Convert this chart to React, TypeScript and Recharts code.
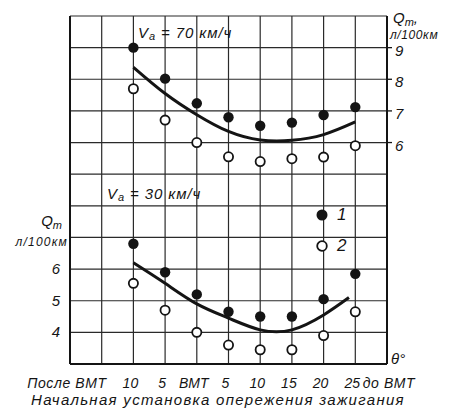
import React from 'react';
import { ComposedChart, Line, Scatter, XAxis, YAxis, CartesianGrid, Legend, ReferenceLine } from 'recharts';

// Ignition advance angle, degrees (negative = after TDC)
const angles = [-10, -5, 0, 5, 10, 15, 20, 25];

// Va = 70 km/h (right scale)
const fuel70Series1 = [9.0, 8.02, 7.24, 6.8, 6.53, 6.63, 6.87, 7.12];
const fuel70Series2 = [7.7, 6.71, 6.0, 5.55, 5.4, 5.49, 5.54, 5.9];
const curve70Angles = [-10, -5, 0, 5, 10, 15, 20, 25];
const curve70Values = [8.38, 7.55, 6.88, 6.35, 6.08, 6.07, 6.25, 6.65];

// Va = 30 km/h (left scale)
const fuel30Series1 = [6.8, 5.9, 5.2, 4.65, 4.5, 4.5, 5.05, 5.85];
const fuel30Series2 = [5.55, 4.7, 4.0, 3.6, 3.45, 3.45, 3.9, 4.65];
const curve30Angles = [-10, -5, 0, 5, 10, 15, 20, 24];
const curve30Values = [6.2, 5.55, 4.9, 4.45, 4.08, 4.08, 4.55, 5.1];

const xTicks = [-20, -15, -10, -5, 0, 5, 10, 15, 20, 25, 30];
const xTickLabels = ['', 'После ВМТ', '10', '5', 'ВМТ', '5', '10', '15', '20', '25', 'до ВМТ'];
const rightTicks = [6, 7, 8, 9];
const leftTicks = [4, 5, 6];
// horizontal grid lines, in left-scale units
const gridLevels = [3, 4, 5, 6, 7, 8, 9, 10, 11, 12, 13, 14];

const legendItems = [
  { key: '1', filled: true },
  { key: '2', filled: false },
];

const toPoints = (xs: number[], ys: number[]) => xs.map((x, i) => ({ x, y: ys[i] }));

const s70a = toPoints(angles, fuel70Series1);
const s70b = toPoints(angles, fuel70Series2);
const c70 = toPoints(curve70Angles, curve70Values);
const s30a = toPoints(angles, fuel30Series1);
const s30b = toPoints(angles, fuel30Series2);
const c30 = toPoints(curve30Angles, curve30Values);

const INK = '#141414';
const FONT = '"Liberation Sans", Arial, sans-serif';

const FilledDot = (props: any) => {
  const { cx, cy } = props;
  return <circle cx={cx} cy={cy} r={5.2} fill={INK} />;
};
const OpenDot = (props: any) => {
  const { cx, cy } = props;
  return <circle cx={cx} cy={cy} r={4.6} fill="#fff" stroke={INK} strokeWidth={1.8} />;
};

const XTick = (props: any) => {
  const { x, payload } = props;
  const i = xTicks.indexOf(payload.value);
  const label = xTickLabels[i] || '';
  const isLeft = payload.value === -15;
  const isRight = payload.value === 30;
  return (
    <text
      x={isLeft ? x + 5 : isRight ? x + 2 : x - 3}
      y={388}
      textAnchor={isLeft ? 'end' : 'middle'}
      fontFamily={FONT}
      fontStyle="italic"
      fontSize={14}
      letterSpacing={isLeft || isRight ? 0.6 : 0}
      fill={INK}
    >
      {label}
    </text>
  );
};

const RightTick = (props: any) => {
  const { x, y, payload } = props;
  return (
    <text x={x + 1} y={y + 8} textAnchor="start" fontFamily={FONT} fontStyle="italic" fontSize={15} fill={INK}>
      {payload.value}
    </text>
  );
};

const LeftTick = (props: any) => {
  const { y, payload } = props;
  return (
    <text x={60} y={y + 5} textAnchor="end" fontFamily={FONT} fontStyle="italic" fontSize={15} fill={INK}>
      {payload.value}
    </text>
  );
};

const LegendContent = () => (
  <div style={{ fontFamily: FONT, fontStyle: 'italic', fontSize: 17, color: INK }}>
    {legendItems.map((it) => (
      <div key={it.key} style={{ display: 'flex', alignItems: 'center', height: 31 }}>
        <svg width={14} height={14} style={{ marginRight: 8 }}>
          {it.filled ? (
            <circle cx={7} cy={7} r={5.5} fill={INK} />
          ) : (
            <circle cx={7} cy={7} r={4.8} fill="#fff" stroke={INK} strokeWidth={1.8} />
          )}
        </svg>
        <span>{it.key}</span>
      </div>
    ))}
  </div>
);

export default function App() {
  return (
    <div style={{ position: 'absolute', left: 0, top: 0, width: 452, height: 408, background: '#fff' }}>
      <ComposedChart width={452} height={408} margin={{ top: 16, right: 0, bottom: 0, left: 0 }}>
        <XAxis
          xAxisId={0}
          type="number"
          dataKey="x"
          domain={[-20, 30]}
          ticks={xTicks}
          interval={0}
          height={44}
          tick={<XTick />}
          tickLine={false}
          axisLine={{ stroke: INK, strokeWidth: 2 }}
          allowDataOverflow
        />
        <YAxis
          yAxisId="left"
          orientation="left"
          type="number"
          dataKey="y"
          domain={[3, 14]}
          ticks={leftTicks}
          interval={0}
          width={70}
          tick={<LeftTick />}
          tickLine={false}
          axisLine={{ stroke: INK, strokeWidth: 2 }}
          allowDataOverflow
        />
        <YAxis
          yAxisId="right"
          orientation="right"
          type="number"
          dataKey="y"
          domain={[-1, 10]}
          ticks={rightTicks}
          interval={0}
          width={65}
          tick={<RightTick />}
          tickSize={5}
          tickLine={{ stroke: INK, strokeWidth: 1.3 }}
          axisLine={{ stroke: INK, strokeWidth: 2 }}
          allowDataOverflow
        />
        <CartesianGrid xAxisId={0} yAxisId="left" horizontal={false} stroke="#2a2a2a" strokeWidth={1.2} />
        {gridLevels.map((v) => (
          <ReferenceLine key={v} xAxisId={0} yAxisId="left" y={v} stroke="#2a2a2a" strokeWidth={1.2} />
        ))}

        <Line
          xAxisId={0}
          yAxisId="right"
          data={c70}
          dataKey="y"
          type="natural"
          stroke={INK}
          strokeWidth={3}
          dot={false}
          isAnimationActive={false}
          legendType="none"
        />
        <Line
          xAxisId={0}
          yAxisId="left"
          data={c30}
          dataKey="y"
          type="natural"
          stroke={INK}
          strokeWidth={3}
          dot={false}
          isAnimationActive={false}
          legendType="none"
        />
        <Scatter xAxisId={0} yAxisId="right" data={s70a} shape={<FilledDot />} isAnimationActive={false} />
        <Scatter xAxisId={0} yAxisId="right" data={s70b} shape={<OpenDot />} isAnimationActive={false} />
        <Scatter xAxisId={0} yAxisId="left" data={s30a} shape={<FilledDot />} isAnimationActive={false} />
        <Scatter xAxisId={0} yAxisId="left" data={s30b} shape={<OpenDot />} isAnimationActive={false} />

        <Legend
          layout="vertical"
          align="center"
          verticalAlign="middle"
          content={<LegendContent />}
          wrapperStyle={{ left: 315, top: 199, width: 50 }}
        />

        <text x={138} y={38} fontFamily={FONT} fontStyle="italic" fontSize={15} letterSpacing={0.9} fill={INK}>
          V<tspan fontSize={11} dy={2}>а</tspan>
          <tspan dy={-2}> = 70 км/ч</tspan>
        </text>
        <text x={107} y={199} fontFamily={FONT} fontStyle="italic" fontSize={15} letterSpacing={0.9} fill={INK}>
          V<tspan fontSize={11} dy={2}>а</tspan>
          <tspan dy={-2}> = 30 км/ч</tspan>
        </text>
        <text x={393} y={23} fontFamily={FONT} fontStyle="italic" fontSize={15} fill={INK}>
          Q<tspan fontSize={11} dy={3}>m</tspan>
          <tspan dy={-3}>,</tspan>
        </text>
        <text x={390} y={39} fontFamily={FONT} fontStyle="italic" fontSize={12} letterSpacing={0.6} fill={INK}>
          л/100км
        </text>
        <text x={62} y={226} textAnchor="end" fontFamily={FONT} fontStyle="italic" fontSize={15} fill={INK}>
          Q<tspan fontSize={11} dy={3}>m</tspan>
        </text>
        <text x={68} y={246} textAnchor="end" fontFamily={FONT} fontStyle="italic" fontSize={12} letterSpacing={1.2} fill={INK}>
          л/100км
        </text>
        <text x={391} y={364} fontFamily={FONT} fontStyle="italic" fontSize={15} fill={INK}>
          θ°
        </text>
        <text x={218} y={405} textAnchor="middle" fontFamily={FONT} fontStyle="italic" fontSize={15} letterSpacing={1.3} fill={INK}>
          Начальная установка опережения зажигания
        </text>
      </ComposedChart>
    </div>
  );
}
